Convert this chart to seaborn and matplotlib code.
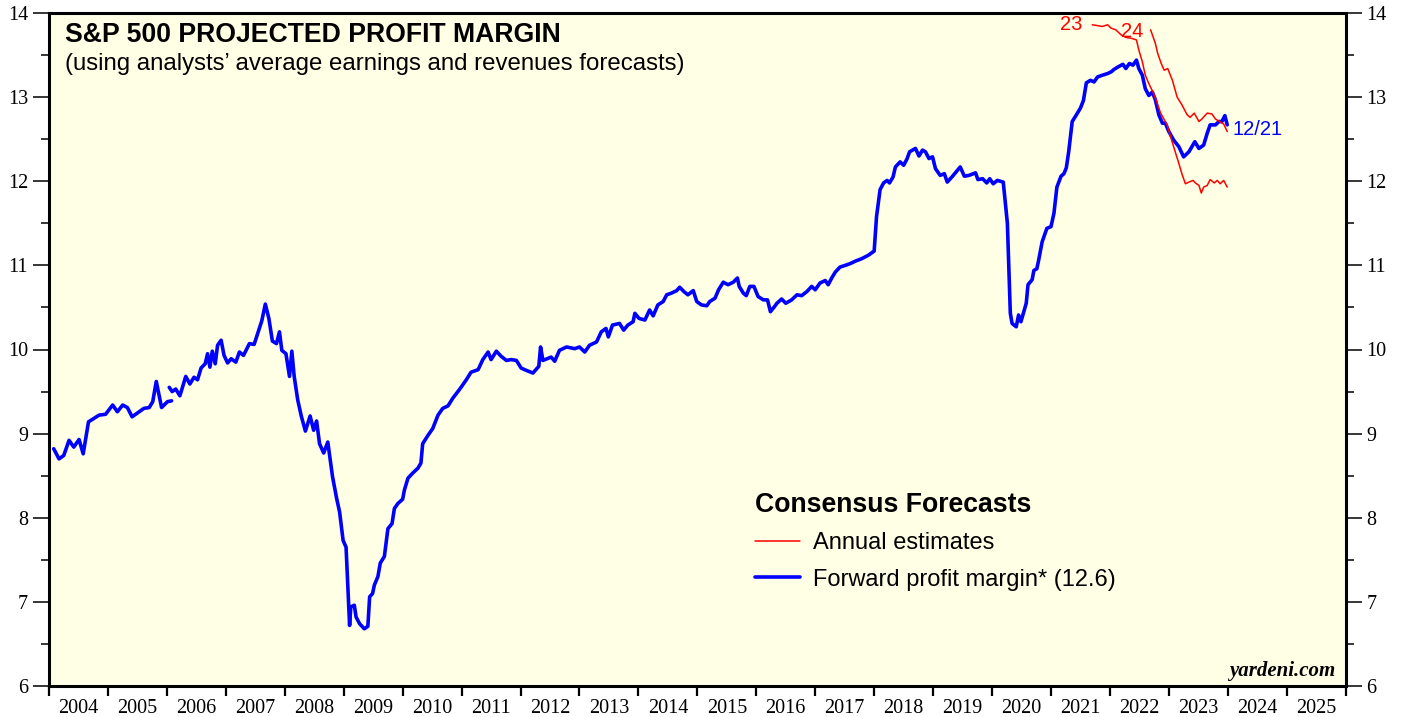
import matplotlib
matplotlib.use('Agg')
import matplotlib.pyplot as plt
import seaborn as sns
from matplotlib.lines import Line2D
from matplotlib.ticker import MultipleLocator, FixedLocator, NullFormatter, FixedFormatter

# forward profit margin, first stretch (2004 - early 2006)
fwd_a_date = [2004.08, 2004.17, 2004.25, 2004.34, 2004.42, 2004.51, 2004.58, 2004.67, 2004.76,
              2004.85, 2004.96, 2005.08, 2005.16, 2005.25, 2005.33, 2005.41, 2005.53, 2005.61,
              2005.70, 2005.76, 2005.82, 2005.91, 2006.01, 2006.08]
fwd_a_val = [8.82, 8.70, 8.74, 8.92, 8.84, 8.93, 8.76, 9.14, 9.18,
             9.22, 9.23, 9.34, 9.26, 9.34, 9.31, 9.20, 9.26, 9.30,
             9.31, 9.38, 9.62, 9.31, 9.38, 9.39]

# forward profit margin, second stretch (2006 - 12/21/2023)
fwd_b_date = [2006.04, 2006.09, 2006.15, 2006.22, 2006.26, 2006.32, 2006.39, 2006.46, 2006.52, 2006.58,
              2006.65, 2006.69, 2006.73, 2006.77, 2006.82, 2006.86, 2006.92, 2006.97, 2007.03, 2007.09,
              2007.17, 2007.23, 2007.30, 2007.40, 2007.48, 2007.56, 2007.61, 2007.67, 2007.73, 2007.79,
              2007.86, 2007.91, 2007.95, 2008.02, 2008.08, 2008.12, 2008.16, 2008.22, 2008.28, 2008.35,
              2008.43, 2008.49, 2008.54, 2008.59, 2008.66, 2008.73, 2008.81, 2008.88, 2008.93, 2008.99,
              2009.04, 2009.10, 2009.12, 2009.18, 2009.21, 2009.27, 2009.35, 2009.41, 2009.44, 2009.49,
              2009.52, 2009.58, 2009.62, 2009.69, 2009.75, 2009.82, 2009.86, 2009.92, 2010.00, 2010.03,
              2010.09, 2010.17, 2010.26, 2010.31, 2010.34, 2010.43, 2010.51, 2010.60, 2010.68, 2010.77,
              2010.85, 2010.97, 2011.08, 2011.16, 2011.28, 2011.36, 2011.45, 2011.50, 2011.59, 2011.67,
              2011.76, 2011.84, 2011.93, 2012.01, 2012.07, 2012.21, 2012.31, 2012.34, 2012.38, 2012.52,
              2012.58, 2012.66, 2012.78, 2012.92, 2013.00, 2013.09, 2013.17, 2013.29, 2013.37, 2013.45,
              2013.49, 2013.56, 2013.68, 2013.75, 2013.82, 2013.91, 2013.94, 2014.01, 2014.11, 2014.19,
              2014.25, 2014.33, 2014.42, 2014.48, 2014.56, 2014.65, 2014.70, 2014.77, 2014.84, 2014.93,
              2014.99, 2015.07, 2015.16, 2015.21, 2015.30, 2015.36, 2015.44, 2015.52, 2015.61, 2015.68,
              2015.71, 2015.78, 2015.83, 2015.89, 2015.96, 2016.03, 2016.12, 2016.19, 2016.24, 2016.32,
              2016.35, 2016.43, 2016.50, 2016.60, 2016.69, 2016.77, 2016.86, 2016.94, 2017.00, 2017.08,
              2017.17, 2017.22, 2017.28, 2017.34, 2017.42, 2017.51, 2017.59, 2017.68, 2017.79, 2017.90,
              2018.00, 2018.04, 2018.10, 2018.16, 2018.22, 2018.26, 2018.32, 2018.36, 2018.44, 2018.50,
              2018.56, 2018.60, 2018.70, 2018.76, 2018.82, 2018.87, 2018.93, 2018.99, 2019.04, 2019.12,
              2019.19, 2019.24, 2019.33, 2019.39, 2019.46, 2019.53, 2019.61, 2019.72, 2019.76, 2019.84,
              2019.91, 2019.96, 2020.02, 2020.09, 2020.19, 2020.26, 2020.31, 2020.34, 2020.41, 2020.45,
              2020.49, 2020.54, 2020.58, 2020.61, 2020.68, 2020.71, 2020.76, 2020.79, 2020.85, 2020.93,
              2021.00, 2021.05, 2021.10, 2021.17, 2021.22, 2021.26, 2021.30, 2021.36, 2021.44, 2021.50,
              2021.55, 2021.60, 2021.67, 2021.73, 2021.79, 2021.87, 2021.96, 2022.02, 2022.07, 2022.14,
              2022.22, 2022.27, 2022.33, 2022.39, 2022.45, 2022.49, 2022.55, 2022.60, 2022.66, 2022.72,
              2022.77, 2022.83, 2022.89, 2022.94, 2023.00, 2023.08, 2023.17, 2023.25, 2023.34, 2023.44,
              2023.51, 2023.59, 2023.65, 2023.70, 2023.79, 2023.85, 2023.90, 2023.95, 2023.99]
fwd_b_val = [9.55, 9.50, 9.53, 9.45, 9.54, 9.68, 9.59, 9.67, 9.64, 9.78,
             9.83, 9.95, 9.79, 9.98, 9.83, 10.05, 10.11, 9.93, 9.84, 9.89,
             9.85, 9.97, 9.93, 10.07, 10.06, 10.23, 10.34, 10.54, 10.37, 10.10,
             10.07, 10.21, 9.99, 9.95, 9.68, 9.98, 9.68, 9.40, 9.21, 9.03,
             9.21, 9.04, 9.15, 8.88, 8.77, 8.90, 8.49, 8.23, 8.07, 7.73,
             7.65, 6.72, 6.94, 6.96, 6.82, 6.74, 6.68, 6.71, 7.06, 7.10,
             7.20, 7.30, 7.46, 7.54, 7.87, 7.93, 8.11, 8.17, 8.22, 8.33,
             8.47, 8.53, 8.59, 8.65, 8.88, 8.98, 9.06, 9.22, 9.30, 9.33,
             9.42, 9.53, 9.64, 9.73, 9.76, 9.88, 9.97, 9.88, 9.98, 9.92,
             9.87, 9.88, 9.87, 9.78, 9.76, 9.72, 9.80, 10.03, 9.87, 9.91,
             9.86, 9.99, 10.03, 10.01, 10.03, 9.97, 10.05, 10.09, 10.21, 10.25,
             10.15, 10.29, 10.31, 10.23, 10.29, 10.33, 10.43, 10.37, 10.35, 10.47,
             10.40, 10.53, 10.57, 10.65, 10.67, 10.70, 10.74, 10.69, 10.65, 10.70,
             10.57, 10.53, 10.52, 10.57, 10.61, 10.71, 10.80, 10.77, 10.80, 10.85,
             10.75, 10.67, 10.64, 10.75, 10.75, 10.63, 10.59, 10.59, 10.45, 10.52,
             10.55, 10.60, 10.55, 10.59, 10.65, 10.64, 10.69, 10.75, 10.71, 10.79,
             10.82, 10.77, 10.85, 10.92, 10.98, 11.00, 11.02, 11.05, 11.08, 11.12,
             11.17, 11.58, 11.90, 11.98, 12.01, 11.98, 12.05, 12.17, 12.23, 12.19,
             12.27, 12.35, 12.39, 12.30, 12.37, 12.35, 12.27, 12.29, 12.15, 12.07,
             12.09, 11.99, 12.06, 12.11, 12.17, 12.06, 12.07, 12.10, 12.02, 12.03,
             11.98, 12.03, 11.97, 12.01, 11.99, 11.50, 10.43, 10.31, 10.27, 10.41,
             10.33, 10.45, 10.55, 10.77, 10.83, 10.94, 10.96, 11.06, 11.28, 11.44,
             11.46, 11.62, 11.93, 12.06, 12.09, 12.16, 12.35, 12.71, 12.80, 12.87,
             12.96, 13.17, 13.20, 13.18, 13.24, 13.26, 13.28, 13.30, 13.33, 13.36,
             13.39, 13.34, 13.40, 13.38, 13.44, 13.34, 13.26, 13.10, 13.02, 13.06,
             12.97, 12.79, 12.69, 12.69, 12.59, 12.49, 12.41, 12.29, 12.35, 12.47,
             12.39, 12.43, 12.57, 12.67, 12.67, 12.71, 12.71, 12.78, 12.67]

# annual estimates for 2023
est23_date = [2021.70, 2021.79, 2021.87, 2021.96, 2022.02, 2022.10, 2022.19, 2022.27, 2022.36, 2022.45,
              2022.49, 2022.55, 2022.60, 2022.66, 2022.73, 2022.79, 2022.86, 2022.97, 2023.02, 2023.09,
              2023.17, 2023.22, 2023.28, 2023.34, 2023.41, 2023.45, 2023.51, 2023.55, 2023.59, 2023.65,
              2023.70, 2023.77, 2023.82, 2023.87, 2023.93, 2023.99]
est23_val = [13.86, 13.85, 13.84, 13.86, 13.82, 13.80, 13.74, 13.71, 13.70, 13.68,
             13.56, 13.42, 13.26, 13.16, 13.06, 12.95, 12.81, 12.67, 12.55, 12.39,
             12.21, 12.09, 11.97, 11.99, 12.01, 11.98, 11.95, 11.86, 11.93, 11.95,
             12.02, 11.98, 12.01, 11.97, 12.01, 11.93]

# annual estimates for 2024
est24_date = [2022.69, 2022.73, 2022.77, 2022.81, 2022.87, 2022.92, 2022.98, 2023.06, 2023.14, 2023.22,
              2023.31, 2023.36, 2023.43, 2023.51, 2023.56, 2023.65, 2023.73, 2023.79, 2023.86, 2023.93,
              2023.99]
est24_val = [13.80, 13.72, 13.64, 13.52, 13.40, 13.32, 13.34, 13.20, 13.00, 12.91,
             12.79, 12.76, 12.81, 12.71, 12.74, 12.81, 12.80, 12.74, 12.71, 12.68,
             12.59]

years = list(range(2004, 2026))

sns.set_theme(style='ticks')
plt.rcParams['font.family'] = ['Liberation Sans', 'DejaVu Sans']
plt.rcParams['text.color'] = 'black'

fig = plt.figure(figsize=(14.05, 7.17), dpi=100)
ax = fig.add_axes([49 / 1405, 31 / 717, 1296.7 / 1405, 673 / 717])
ax.set_facecolor('#FFFFE5')

blue = '#0000FF'
red = '#FF0000'
sns.lineplot(x=fwd_a_date, y=fwd_a_val, ax=ax, color=blue, linewidth=2.6, sort=False, estimator=None)
sns.lineplot(x=fwd_b_date, y=fwd_b_val, ax=ax, color=blue, linewidth=2.6, sort=False, estimator=None)
sns.lineplot(x=est23_date, y=est23_val, ax=ax, color=red, linewidth=1.1, sort=False, estimator=None)
sns.lineplot(x=est24_date, y=est24_val, ax=ax, color=red, linewidth=1.1, sort=False, estimator=None)

ax.set_xlim(2004, 2026)
ax.set_ylim(6, 14)
ax.set_xlabel('')
ax.set_ylabel('')

for s in ax.spines.values():
    s.set_linewidth(2.2)
    s.set_color('black')

# x axis: ticks at year boundaries, labels centred in each year
ax.xaxis.set_major_locator(FixedLocator([y for y in range(2004, 2027)]))
ax.xaxis.set_major_formatter(NullFormatter())
ax.xaxis.set_minor_locator(FixedLocator([y + 0.5 for y in years]))
ax.xaxis.set_minor_formatter(FixedFormatter([str(y) for y in years]))
ax.tick_params(axis='x', which='major', direction='out', length=7, width=1.6, color='black')
ax.tick_params(axis='x', which='minor', length=0, pad=9.5, labelsize=14.5)

ax.yaxis.set_major_locator(MultipleLocator(1))
ax.yaxis.set_minor_locator(MultipleLocator(0.5))
ax.tick_params(axis='y', which='both', direction='out', left=True, right=True,
               labelleft=True, labelright=True, color='black')
ax.tick_params(axis='y', which='major', length=11.5, width=1.1, pad=3.5, labelsize=14.5)
ax.tick_params(axis='y', which='minor', length=5.8, width=1.1)

for lab in ax.get_xticklabels(minor=True) + ax.get_yticklabels():
    lab.set_fontfamily('Liberation Serif')
    lab.set_color('black')

ax.text(0.0123, 0.957, 'S&P 500 PROJECTED PROFIT MARGIN', transform=ax.transAxes,
        fontsize=19.2, fontweight='bold', va='baseline', ha='left')
ax.text(0.0123, 0.915, '(using analysts\u2019 average earnings and revenues forecasts)',
        transform=ax.transAxes, fontsize=17.3, va='baseline', ha='left')

ax.text(2021.35, 13.86, '23', color=red, fontsize=14.5, ha='center', va='center')
ax.text(2022.38, 13.78, '24', color=red, fontsize=14.5, ha='center', va='center')
ax.text(2024.08, 12.62, '12/21', color=blue, fontsize=14.5, ha='left', va='center')

ax.text(0.9918, 0.0149, 'yardeni.com', transform=ax.transAxes, fontsize=15,
        fontweight='bold', fontstyle='italic', fontfamily='Liberation Serif',
        ha='right', va='baseline')

handles = [Line2D([], [], color=red, linewidth=1.1), Line2D([], [], color=blue, linewidth=2.6)]
leg = ax.legend(handles, ['Annual estimates', 'Forward profit margin* (12.6)'],
                title='Consensus Forecasts', loc='upper left', bbox_to_anchor=(0.5445, 0.288),
                frameon=False, fontsize=17, title_fontproperties={'weight': 'bold', 'size': 19.2},
                alignment='left', handlelength=1.9, handletextpad=0.55, labelspacing=0.6,
                borderpad=0, borderaxespad=0)
for t in leg.get_texts():
    t.set_color('black')
leg.get_title().set_color('black')

fig.savefig('out.png', dpi=100, facecolor='white')
